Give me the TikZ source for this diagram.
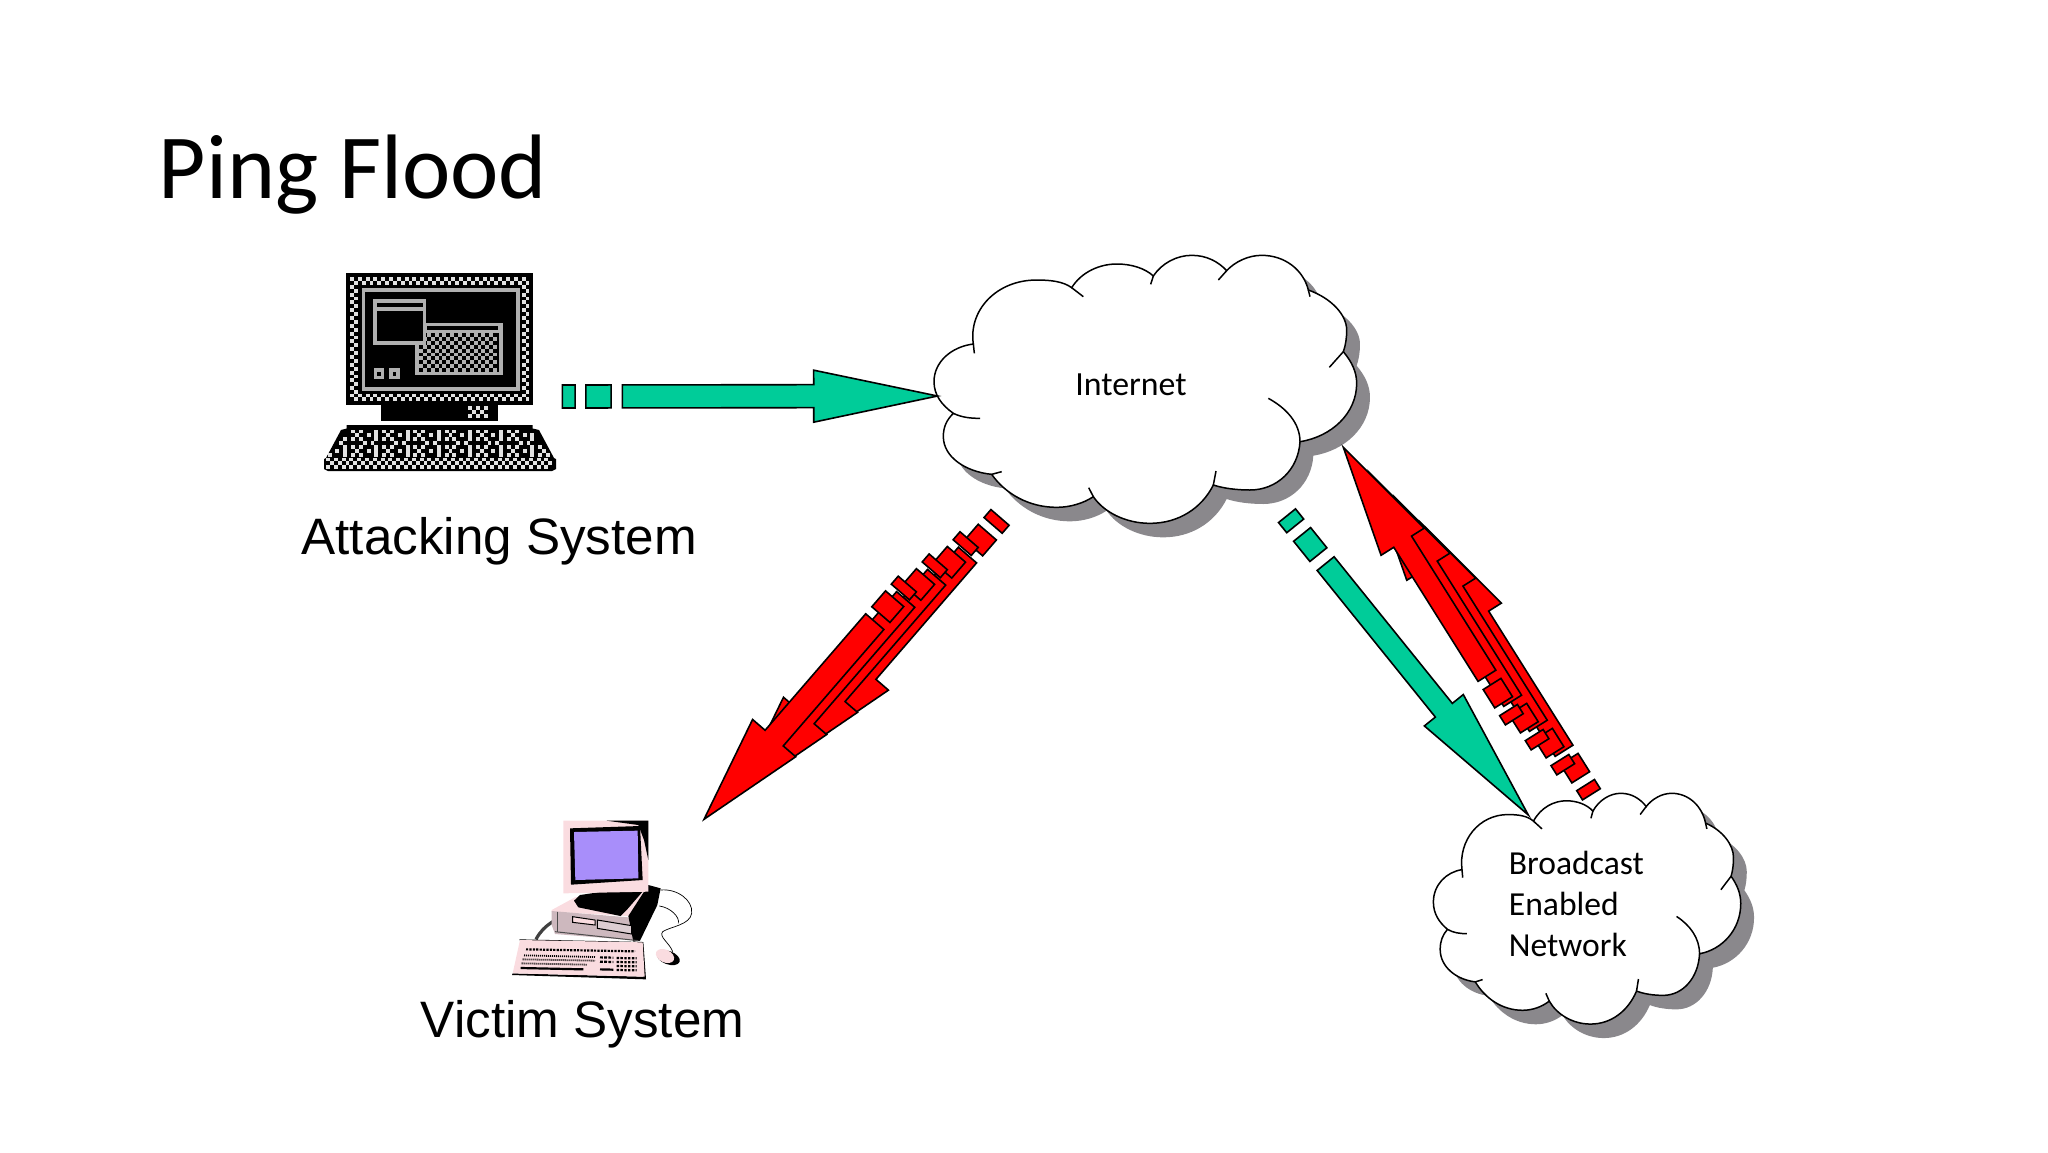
\documentclass[tikz,border=0pt]{standalone}
\usepackage{fontspec}
\setmainfont{Carlito}
\newfontfamily\arialfont{Liberation Sans}
\usepackage{tikz}
\usetikzlibrary{calc,positioning}
\definecolor{attackgreen}{RGB}{0,204,153}
\definecolor{floodred}{RGB}{255,0,0}
\definecolor{shadowgray}{RGB}{138,136,140}
\definecolor{framegray}{RGB}{176,176,176}
\definecolor{checkwhite}{RGB}{226,226,226}
\definecolor{victimpink}{RGB}{250,220,224}
\definecolor{victimcase}{RGB}{205,184,190}
\definecolor{victimscreen}{RGB}{168,142,250}
\tikzset{
  arrowline/.style={draw=black,line width=0.8pt,line join=miter},
  cloudline/.style={draw=black,line width=0.75pt},
}
% one arrow: colour, tail x, tail y, tip x, tip y, shaft width, head width, where the head starts
\newcommand{\blockarrow}[8]{
  \pgfmathsetmacro{\aL}{veclen(#4-#2,#5-#3)}
  \pgfmathsetmacro{\aA}{atan2(#3-#5,#4-#2)}
  \pgfmathsetmacro{\sW}{#6/2}
  \pgfmathsetmacro{\hW}{#7/2}
  \begin{scope}[shift={(#2,#3)},rotate=\aA,xscale=\aL]
    \filldraw[arrowline,fill=#1] (0,-\sW) rectangle (0.034,\sW);
    \filldraw[arrowline,fill=#1] (0.0625,-\sW) rectangle (0.13,\sW);
    \filldraw[arrowline,fill=#1] (0.16,-\sW) -- (#8,-\sW) -- (#8,-\hW) -- (1,0)
      -- (#8,\hW) -- (#8,\sW) -- (0.16,\sW) -- cycle;
  \end{scope}
}
\newcommand{\cloudoutline}{(160,312)
  .. controls (145,210) and (230,120) .. (350,120) .. controls (395,120) and (430,125) .. (455,143)
  .. controls (485,95) and (540,72) .. (590,72) .. controls (635,72) and (675,85) .. (700,108)
  .. controls (725,70) and (770,46) .. (815,46) .. controls (860,46) and (895,65) .. (920,92)
  .. controls (945,65) and (985,46) .. (1025,46) .. controls (1095,46) and (1150,90) .. (1165,150)
  .. controls (1235,175) and (1280,225) .. (1280,270) .. controls (1280,295) and (1277,315) .. (1270,335)
  .. controls (1295,365) and (1310,395) .. (1310,430) .. controls (1310,520) and (1235,590) .. (1140,605)
  .. controls (1135,690) and (1070,750) .. (990,750) .. controls (950,750) and (910,745) .. (880,735)
  .. controls (845,805) and (775,850) .. (690,850) .. controls (615,850) and (550,815) .. (520,770)
  .. controls (490,790) and (450,802) .. (410,802) .. controls (325,802) and (255,760) .. (215,703)
  .. controls (135,695) and (70,650) .. (70,590) .. controls (70,560) and (80,540) .. (100,520)
  .. controls (65,495) and (42,465) .. (42,425) .. controls (42,365) and (95,320) .. (160,312) -- cycle}
% x shift, y shift, x scale, y scale
\newcommand{\cloudat}[4]{
  \begin{scope}[shift={(#1+13.3,#2+14)},xscale=#3,yscale=#4]
    \fill[shadowgray] \cloudoutline;
  \end{scope}
  \begin{scope}[shift={(#1,#2)},xscale=#3,yscale=#4]
    \filldraw[cloudline,fill=white] \cloudoutline;
    \draw[cloudline] (163,340) -- (160,312);
    \draw[cloudline] (455,143) -- (490,170);
    \draw[cloudline] (692,133) -- (700,108);
    \draw[cloudline] (895,120) -- (920,92);
    \draw[cloudline] (1165,150) -- (1170,170);
    \draw[cloudline] (1270,335) -- (1228,382);
    \draw[cloudline] (1045,475) .. controls (1100,505) and (1140,550) .. (1140,605);
    \draw[cloudline] (888,693) -- (880,735);
    \draw[cloudline] (506,743) -- (520,770);
    \draw[cloudline] (245,695) -- (215,703);
    \draw[cloudline] (100,520) .. controls (125,532) and (150,535) .. (180,535);
  \end{scope}
}
% x, y, cells across, cells down, colour
\newcommand{\checker}[5]{
  \foreach \i in {1,...,#3}{
    \foreach \j in {1,...,#4}{
      \pgfmathtruncatemacro{\k}{mod(\i+\j,2)}
      \ifnum\k=0
        \fill[#5] ({#1+(\i-1)*3.9},{#2+(\j-1)*3.9}) rectangle +(3.9,3.9);
      \fi
    }
  }
}
\begin{document}
\begin{tikzpicture}[x=0.5pt,y=-0.5pt]
\useasboundingbox (0,0) rectangle (2048,1152);

\node[anchor=base west,font=\fontsize{45.8}{54}\selectfont,inner sep=0pt] (title) at (158.5,198) {Ping Flood};

% clouds
\cloudat{920}{240}{1/3}{1/3}
\cloudat{1423.2}{780.1}{0.2424}{0.287}
\node[anchor=base west,font=\fontsize{16.9}{20}\selectfont,inner sep=0pt] (internet) at (1075,395) {Internet};
\node[anchor=base west,align=left,font=\fontsize{16.8}{20.35}\selectfont,inner sep=0pt] (broadcast) at (1508.5,956) {Broadcast\\Enabled\\Network};

% attacking system
\fill[black] (346,272.5) rectangle (533,405);
\checker{350}{277}{46}{2}{checkwhite}
\checker{350}{393.5}{46}{2}{checkwhite}
\checker{350}{284.8}{2}{28}{checkwhite}
\checker{521.6}{284.8}{2}{28}{checkwhite}
\draw[framegray,line width=1.8pt] (363.5,290) rectangle (518,389);
\fill[framegray] (415,322.5) rectangle (503,375);
\fill[black] (426.7,326) rectangle (498,329.5);
\fill[black] (419,333) rectangle (499,371.5);
\checker{419}{333}{20}{10}{framegray}
\filldraw[draw=framegray,line width=1.8pt,fill=black] (375,301) rectangle (424.5,343);
\draw[framegray,line width=1.8pt] (375,309) -- (424.5,309);
\foreach \sqx in {373.5,389}{
  \fill[framegray] (\sqx,368) rectangle +(10.5,11);
  \fill[black] ($(\sqx,368)+(3.5,3.5)$) rectangle +(3.5,4);
}
\fill[black] (380.7,405) rectangle (498.3,420.7);
\checker{468}{406}{5}{3}{checkwhite}
\fill[black] (346.7,425) -- (532.7,425) -- (532.7,428.5) -- (539,430) -- (554,458) -- (556,459) -- (556,469)
  -- (552,471) -- (328,471) -- (324,469) -- (324,459) -- (326,458) -- (341,430) -- (346.7,428.5) -- cycle;
\checker{326}{457.5}{58}{3}{checkwhite}
% keys, on a grid of 8 by 4 cells
\foreach \j in {0,...,6}{
  \pgfmathtruncatemacro{\nx}{45+2*\j}
  \foreach \i in {0,...,\nx}{
    \pgfmathtruncatemacro{\idx}{mod(\i-\j+64,8)+8*mod(\j,4)}
    \pgfmathtruncatemacro{\k}{{1,0,1,0,0,0,1,0, 0,1,0,0,1,0,1,0, 1,0,1,0,0,0,1,0, 0,0,0,1,0,1,0,0}[\idx]}
    \ifnum\k=1
      \fill[checkwhite] ({351-\j*3.9+\i*3.9},{429.5+\j*3.9}) rectangle +(3.9,3.9);
    \fi
  }
}
\node[anchor=base west,font=\arialfont\fontsize{25.6}{30}\selectfont,inner sep=0pt] (attacking) at (301,554) {Attacking System};

% victim system
\begin{scope}[shift={(500,810)},scale=1/3]
  \draw[black!75,line width=1.6pt] (108,388) .. controls (120,365) and (135,350) .. (158,335);
  \draw[black,line width=0.35pt] (482,240) .. controls (530,235) and (580,270) .. (575,310)
    .. controls (570,345) and (510,350) .. (488,365) .. controls (475,380) and (510,400) .. (518,425);
  \draw[black,line width=0.35pt] (478,288) .. controls (510,292) and (540,320) .. (535,340);
  \fill[victimpink] (155,300) -- (225,262) -- (445,225) -- (385,318) -- (155,305) -- cycle;
  \fill[victimcase] (155,303) -- (385,322) -- (418,392) -- (165,372) -- (155,345) -- cycle;
  \fill[black] (385,318) -- (445,225) -- (482,235) -- (472,285) -- (420,392) -- (400,395) -- cycle;
  \fill[black] (222,272) -- (240,255) -- (445,225) -- (380,300) -- (362,318) -- (235,292) -- cycle;
  \fill[victimpink] (218,320) -- (285,330) -- (285,345) -- (218,337) -- cycle;
  \draw[black,line width=0.5pt] (218,320) -- (285,330) -- (285,345) -- (218,337) -- cycle;
  \fill[victimcase!70!white] (292,330) -- (395,347) -- (395,372) -- (292,355) -- cycle;
  \draw[black,line width=0.5pt] (292,330) -- (395,347) -- (395,372) -- (292,355) -- cycle;
  \draw[black!70,line width=0.5pt] (172,305) -- (172,365);
  \draw[black!70,line width=0.5pt] (165,365) -- (415,392);
  \fill[victimpink] (190,32) -- (445,32) -- (445,245) -- (190,250) -- cycle;
  \fill[black] (320,32) -- (445,32) -- (445,150) -- (432,90) -- (415,45) -- cycle;
  \fill[black] (210,55) -- (420,48) -- (428,210) -- (213,224) -- cycle;
  \fill[victimscreen] (222,66) -- (413,62) -- (415,205) -- (226,210) -- cycle;
  % mouse
  \fill[black,rotate around={-20:(505,443)}] (505,443) ellipse [x radius=36,y radius=20];
  \fill[victimpink,rotate around={-25:(495,438)}] (495,438) ellipse [x radius=29,y radius=19];
  \fill[black] (58,388) -- (430,396) -- (438,508) -- (36,495) -- (38,490) -- (430,500) -- (425,400) -- (60,392) -- cycle;
  \fill[victimpink] (60,390) -- (428,397) -- (434,500) -- (38,490) -- cycle;
  \draw[black,line width=1.1pt,dash pattern=on 1.1pt off 0.6pt] (78,418) -- (405,424);
  \draw[black,line width=0.9pt,dash pattern=on 0.5pt off 0.5pt] (72,436) -- (285,441);
  \draw[black,line width=0.9pt,dash pattern=on 0.5pt off 0.5pt] (68,448) -- (285,452);
  \draw[black,line width=0.9pt,dash pattern=on 0.5pt off 0.5pt] (65,460) -- (260,464);
  \draw[black,line width=1.1pt] (62,474) -- (250,478);
  \draw[black,line width=1.1pt,dash pattern=on 1.4pt off 0.7pt] (300,442) -- (340,443);
  \draw[black,line width=1.1pt,dash pattern=on 1.4pt off 0.7pt] (300,455) -- (340,456);
  \draw[black,line width=1.1pt] (300,478) -- (340,479);
  \foreach \rowy in {444,456,468,480}{
    \draw[black,line width=1.1pt,dash pattern=on 1.2pt off 0.7pt] (350,\rowy) -- (410,\rowy+1);
  }
\end{scope}
\node[anchor=base west,font=\arialfont\fontsize{25.6}{30}\selectfont,inner sep=0pt] (victim) at (420.5,1037) {Victim System};

% arrows
\blockarrow{attackgreen}{562.4}{396.5}{937.5}{396}{23}{52}{0.67}
\blockarrow{attackgreen}{1287}{515.7}{1528.3}{815}{21.8}{50}{0.65}
\foreach \n in {3,2,1,0}{
  \pgfmathsetmacro{\ox}{30.9*\n}
  \pgfmathsetmacro{\oy}{22.2*\n}
  \pgfmathsetmacro{\tx}{907.3+\ox}
  \pgfmathsetmacro{\ty}{584-\oy}
  \pgfmathsetmacro{\px}{704+\ox}
  \pgfmathsetmacro{\py}{819.3-\oy}
  \blockarrow{floodred}{\tx}{\ty}{\px}{\py}{24}{57}{0.655}
}
\foreach \n in {3,2,1,0}{
  \pgfmathsetmacro{\ox}{25.7*\n}
  \pgfmathsetmacro{\oy}{25*\n}
  \pgfmathsetmacro{\tx}{1514.3+\ox}
  \pgfmathsetmacro{\ty}{719.3+\oy}
  \pgfmathsetmacro{\px}{1343.3+\ox}
  \pgfmathsetmacro{\py}{447.3+\oy}
  \blockarrow{floodred}{\tx}{\ty}{\px}{\py}{21}{51}{0.653}
}
\end{tikzpicture}
\end{document}
